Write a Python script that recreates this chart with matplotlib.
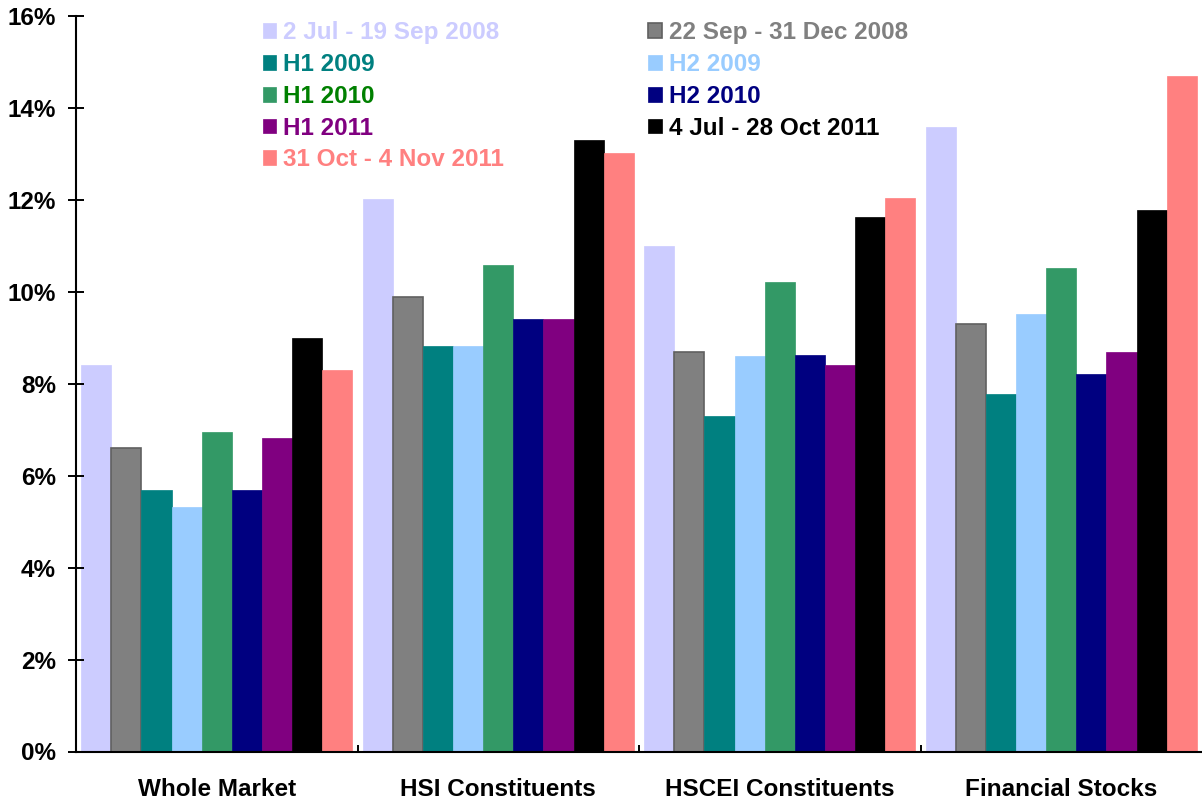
import numpy as np
import matplotlib
matplotlib.use("Agg")
import matplotlib.pyplot as plt
from matplotlib.ticker import FuncFormatter, FixedLocator

plt.rcParams['font.family'] = ['Liberation Sans', 'DejaVu Sans']
plt.rcParams['font.weight'] = 'bold'

# categorias del eje x
categories = ["Whole Market", "HSI Constituents", "HSCEI Constituents", "Financial Stocks"]

# nombres de los periodos (series)
periods = ["2 Jul - 19 Sep 2008", "22 Sep - 31 Dec 2008", "H1 2009", "H2 2009",
           "H1 2010", "H2 2010", "H1 2011", "4 Jul - 28 Oct 2011", "31 Oct - 4 Nov 2011"]

# valores en %, una lista por periodo (orden de categorias)
jul_sep_2008 = [8.41, 12.02, 10.99, 13.58]
sep_dec_2008 = [6.60, 9.88, 8.68, 9.31]
h1_2009 = [5.69, 8.82, 7.30, 7.78]
h2_2009 = [5.32, 8.82, 8.61, 9.52]
h1_2010 = [6.94, 10.58, 10.21, 10.52]
h2_2010 = [5.69, 9.41, 8.62, 8.21]
h1_2011 = [6.81, 9.41, 8.41, 8.69]
jul_oct_2011 = [9.00, 13.30, 11.63, 11.78]
oct_nov_2011 = [8.30, 13.02, 12.04, 14.69]

series = [jul_sep_2008, sep_dec_2008, h1_2009, h2_2009, h1_2010,
          h2_2010, h1_2011, jul_oct_2011, oct_nov_2011]

colors = ["#CCCCFF", "#808080", "#008080", "#99CCFF", "#339966",
          "#000080", "#800080", "#000000", "#FF8080"]
text_colors = ["#CCCCFF", "#808080", "#008080", "#99CCFF", "#008000",
               "#000080", "#800080", "#000000", "#FF8080"]

fig = plt.figure(figsize=(12.02, 8.06), dpi=100)
ax = fig.add_axes([76/1202, (806-751.5)/806, 1 - 76/1202, (751.5-16)/806])

x = np.arange(len(categories))
w = 0.107
bars = []
for i, (vals, c) in enumerate(zip(series, colors)):
    edge = "#606060" if i == 1 else c
    b = ax.bar(x + (i - 4)*w, vals, w, color=c, edgecolor=edge,
               linewidth=1.2 if i == 1 else 0.5, label=periods[i])
    bars.append(b)

ax.set_xlim(-0.5, 3.5)
ax.set_ylim(0, 16)
ax.set_yticks(np.arange(0, 17, 2))
ax.yaxis.set_major_formatter(FuncFormatter(lambda v, p: "%d%%" % v))
ax.tick_params(axis='y', direction='inout', length=11, width=1.4, pad=9, labelsize=17.5)

ax.set_xticks(x)
ax.set_xticklabels(categories)
ax.tick_params(axis='x', which='major', length=0, pad=19, labelsize=17.5)
ax.xaxis.set_minor_locator(FixedLocator([0.5, 1.5, 2.5]))
ax.tick_params(axis='x', which='minor', direction='in', length=5, width=1.4)

for s in ["top", "right"]:
    ax.spines[s].set_visible(False)
for s in ["left", "bottom"]:
    ax.spines[s].set_linewidth(1.5)

# leyenda en dos columnas, ordenada por filas
order = [0, 2, 4, 6, 8, 1, 3, 5, 7]
leg = ax.legend([bars[k] for k in order], [periods[k] for k in order], ncol=2,
                loc='upper left', bbox_to_anchor=(0.157, 1.006), frameon=False,
                fontsize=17.5, handlelength=0.55, handleheight=0.55, handletextpad=0.3,
                labelspacing=0.36, columnspacing=5.93, borderaxespad=0)
for t, k in zip(leg.get_texts(), order):
    t.set_color(text_colors[k])

fig.savefig("out.png", dpi=100)
